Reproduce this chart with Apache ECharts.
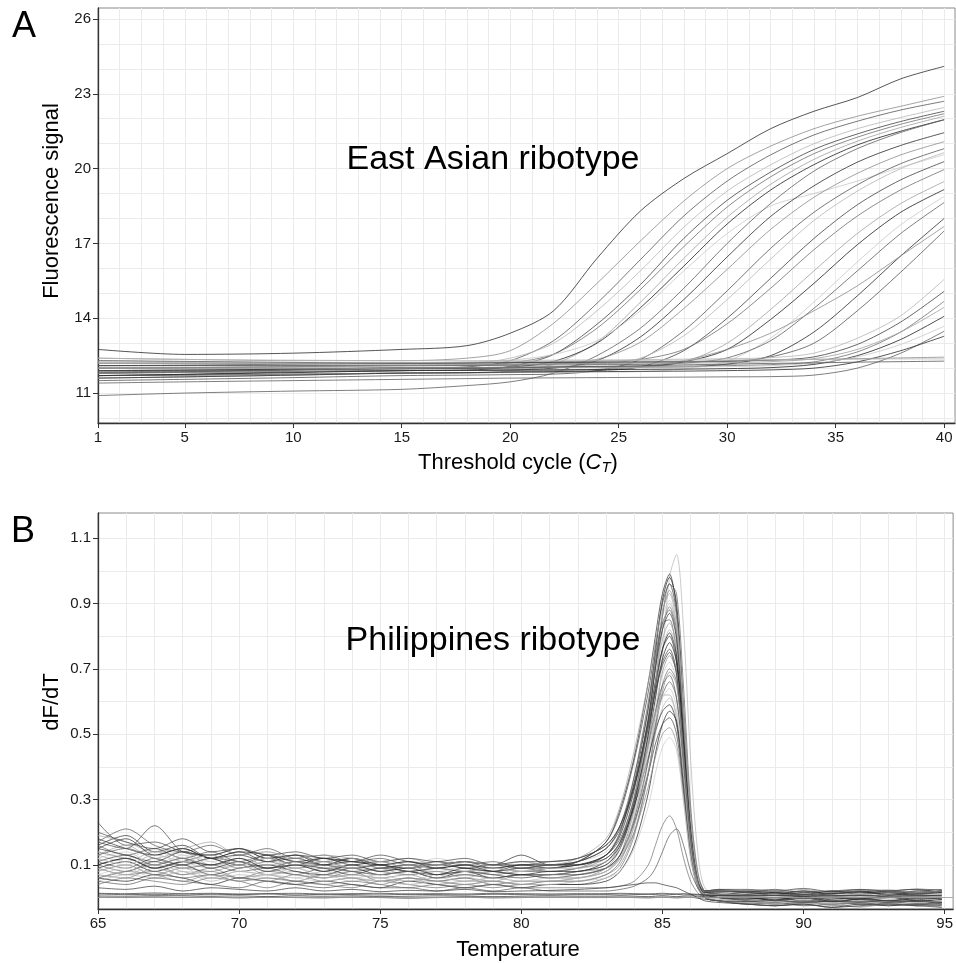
<!DOCTYPE html>
<html>
<head>
<meta charset="utf-8">
<script src="https://cdn.jsdelivr.net/npm/echarts@6/dist/echarts.min.js"></script>
<style>
  html, body { margin: 0; padding: 0; background: #fff; }
  #chart { width: 956px; height: 963px; }
</style>
</head>
<body>
<div id="chart"></div>
<script>
// ---- Panel A: amplification curves (fluorescence vs cycle) ----
const cycles = [1, 5, 10, 15, 18, 20, 22, 24, 26, 28, 30, 32, 34, 36, 38, 40];
const cycleTicks = [1, 5, 10, 15, 20, 25, 30, 35, 40];
const fluorTicks = [11, 14, 17, 20, 23, 26];
const fluorCurves = [
  [12.75, 12.55, 12.6, 12.75, 12.9, 13.4, 14.3, 16.4, 18.3, 19.6, 20.6, 21.6, 22.3, 22.85, 23.6, 24.1],
  [12.4, 12.35, 12.3, 12.3, 12.4, 12.7, 13.8, 15.4, 17.1, 18.7, 20.0, 20.9, 21.6, 22.1, 22.5, 22.9],
  [11.8, 11.85, 11.95, 12.0, 12.05, 12.3, 13.1, 14.6, 16.35, 18.1, 19.5, 20.55, 21.35, 21.9, 22.35, 22.7],
  [12.2, 12.2, 12.2, 12.2, 12.2, 12.4, 13.0, 14.3, 15.9, 17.65, 19.1, 20.15, 21.0, 21.6, 22.05, 22.45],
  [11.7, 11.75, 11.85, 11.9, 11.92, 12.07, 12.55, 13.76, 15.35, 17.2, 18.73, 19.86, 20.77, 21.39, 21.89, 22.3],
  [12.0, 12.02, 12.06, 12.1, 12.1, 12.21, 12.56, 13.6, 15.15, 16.87, 18.46, 19.67, 20.6, 21.26, 21.78, 22.2],
  [11.6, 11.65, 11.72, 11.8, 11.8, 11.88, 12.16, 13.04, 14.64, 16.4, 18.05, 19.37, 20.37, 21.1, 21.65, 22.1],
  [11.9, 11.92, 11.96, 12.0, 12.0, 12.04, 12.27, 13.0, 14.42, 16.09, 17.78, 19.14, 20.16, 20.95, 21.5, 21.96],
  [12.3, 12.25, 12.22, 12.2, 12.25, 12.32, 12.55, 13.1, 14.3, 15.9, 17.4, 18.5, 19.0, 19.5, 20.05, 20.56],
  [10.9, 11.0, 11.08, 11.15, 11.3, 11.45, 11.8, 12.5, 13.6, 15.2, 17.0, 18.6, 19.9, 20.8, 21.45, 21.96],
  [11.8, 11.83, 11.86, 11.9, 11.92, 11.93, 12.0, 12.3, 13.25, 14.75, 16.46, 18.08, 19.31, 20.26, 20.93, 21.44],
  [12.1, 12.1, 12.1, 12.1, 12.1, 12.12, 12.16, 12.35, 13.04, 14.39, 15.96, 17.56, 18.85, 19.81, 20.55, 21.08],
  [11.5, 11.55, 11.62, 11.7, 11.72, 11.74, 11.76, 11.9, 12.35, 13.5, 15.1, 16.8, 18.25, 19.35, 20.2, 20.8],
  [11.9, 11.93, 11.96, 12.0, 12.02, 12.04, 12.06, 12.15, 12.4, 13.3, 14.75, 16.37, 17.92, 19.1, 20.0, 20.64],
  [11.7, 11.72, 11.76, 11.8, 11.82, 11.84, 11.86, 11.9, 12.05, 12.7, 14.0, 15.6, 17.2, 18.55, 19.55, 20.28],
  [12.2, 12.2, 12.2, 12.2, 12.22, 12.24, 12.26, 12.28, 12.35, 12.75, 13.78, 15.2, 16.75, 18.1, 19.15, 19.96],
  [11.8, 11.82, 11.86, 11.9, 11.91, 11.92, 11.93, 11.95, 12.03, 12.25, 13.0, 14.35, 15.9, 17.4, 18.6, 19.48],
  [12.0, 12.0, 12.0, 12.0, 12.01, 12.02, 12.03, 12.05, 12.07, 12.25, 12.75, 13.95, 15.4, 16.95, 18.25, 19.16],
  [11.6, 11.65, 11.72, 11.8, 11.81, 11.82, 11.83, 11.84, 11.86, 11.97, 12.28, 13.2, 14.65, 16.26, 17.75, 18.88],
  [12.1, 12.1, 12.1, 12.1, 12.11, 12.12, 12.13, 12.14, 12.15, 12.2, 12.41, 13.1, 14.4, 15.9, 17.4, 18.64],
  [11.9, 11.92, 11.96, 12.0, 12.0, 12.01, 12.02, 12.03, 12.04, 12.05, 12.16, 12.5, 13.45, 14.9, 16.5, 18.0],
  [11.7, 11.72, 11.76, 11.8, 11.82, 11.85, 11.9, 11.95, 12.05, 12.3, 12.75, 13.4, 14.3, 15.3, 16.5, 17.68],
  [12.3, 12.27, 12.23, 12.2, 12.2, 12.21, 12.22, 12.23, 12.24, 12.25, 12.27, 12.45, 13.0, 14.3, 15.85, 17.5],
  [12.4, 12.35, 12.32, 12.3, 12.3, 12.31, 12.32, 12.33, 12.34, 12.36, 12.38, 12.42, 12.6, 13.2, 14.1, 15.56],
  [12.1, 12.12, 12.16, 12.2, 12.21, 12.22, 12.23, 12.24, 12.25, 12.26, 12.28, 12.32, 12.45, 12.95, 13.85, 15.08],
  [11.8, 11.85, 11.92, 12.0, 12.02, 12.04, 12.05, 12.06, 12.07, 12.08, 12.1, 12.14, 12.25, 12.65, 13.45, 14.68],
  [12.2, 12.18, 12.16, 12.15, 12.15, 12.16, 12.17, 12.18, 12.19, 12.2, 12.22, 12.26, 12.38, 12.75, 13.45, 14.44],
  [11.7, 11.75, 11.82, 11.9, 11.91, 11.92, 11.93, 11.94, 11.95, 11.96, 11.98, 12.02, 12.15, 12.5, 13.15, 14.08],
  [12.0, 12.0, 12.0, 12.0, 12.0, 12.01, 12.02, 12.03, 12.04, 12.05, 12.06, 12.1, 12.2, 12.45, 12.95, 13.68],
  [11.4, 11.45, 11.5, 11.55, 11.58, 11.6, 11.61, 11.62, 11.63, 11.64, 11.65, 11.66, 11.72, 12.0, 12.6, 13.48],
  [11.6, 11.65, 11.72, 11.8, 11.82, 11.84, 11.85, 11.86, 11.87, 11.88, 11.9, 11.93, 12.0, 12.25, 12.7, 13.28],
  [12.0, 12.02, 12.06, 12.1, 12.13, 12.15, 12.18, 12.2, 12.23, 12.26, 12.29, 12.32, 12.35, 12.38, 12.41, 12.44],
  [11.85, 11.88, 11.92, 11.96, 11.99, 12.01, 12.04, 12.07, 12.1, 12.13, 12.16, 12.19, 12.21, 12.24, 12.26, 12.28],
  [12.25, 12.22, 12.2, 12.22, 12.24, 12.26, 12.28, 12.3, 12.31, 12.32, 12.33, 12.34, 12.35, 12.36, 12.37, 12.37]
];

// ---- Panel B: melt curves (dF/dT vs temperature) ----
const temps = [65, 66, 67, 68, 69, 70, 71, 72, 73, 74, 75, 76, 77, 78, 79, 80, 81, 82,
  83, 83.5, 84, 84.5, 84.75, 85, 85.25, 85.5, 85.75, 86, 86.25, 86.5, 87,
  88, 89, 90, 91, 92, 93, 94, 94.9];
const tempTicks = [65, 70, 75, 80, 85, 90, 95];
const dfdtTicks = [0.1, 0.3, 0.5, 0.7, 0.9, 1.1];
const meltCurves = [
  [0.12,0.1,0.13,0.11,0.09,0.1,0.08,0.09,0.07,0.08,0.07,0.08,0.06,0.07,0.06,0.07,0.06,0.07,  0.09,0.13,0.2,0.38,0.52,0.74,0.98,1.05,0.82,0.42,0.14,0.03,0.01,  0.0,-0.01,0.005,-0.005,0.0,-0.01,0.0,-0.005],
  [0.16,0.19,0.14,0.16,0.12,0.14,0.11,0.13,0.1,0.12,0.09,0.1,0.09,0.1,0.08,0.1,0.09,0.11,  0.17,0.27,0.43,0.66,0.8,0.93,0.99,0.88,0.55,0.22,0.06,0.02,0.02,  0.015,0.01,0.02,0.012,0.018,0.01,0.02,0.015],
  [0.1,0.12,0.09,0.11,0.13,0.1,0.12,0.1,0.11,0.09,0.1,0.08,0.09,0.08,0.09,0.08,0.09,0.1,  0.13,0.2,0.35,0.58,0.75,0.91,0.98,0.9,0.58,0.25,0.07,0.02,0.01,  0.005,-0.01,0.0,-0.015,-0.005,-0.01,-0.02,-0.015],
  [0.23,0.16,0.17,0.14,0.13,0.15,0.12,0.13,0.11,0.12,0.1,0.11,0.1,0.11,0.09,0.1,0.1,0.11,  0.17,0.26,0.42,0.63,0.77,0.9,0.96,0.87,0.55,0.22,0.06,0.02,0.02,  0.02,0.015,0.02,0.01,0.02,0.015,0.02,0.025],
  [0.08,0.1,0.07,0.09,0.08,0.1,0.07,0.08,0.06,0.07,0.06,0.07,0.05,0.06,0.05,0.07,0.06,0.06,  0.09,0.15,0.3,0.54,0.71,0.87,0.94,0.86,0.56,0.24,0.07,0.01,0.0,  -0.01,-0.02,-0.01,-0.025,-0.015,-0.02,-0.01,-0.02],
  [0.14,0.12,0.15,0.13,0.11,0.13,0.14,0.11,0.12,0.1,0.11,0.1,0.12,0.1,0.09,0.11,0.1,0.11,  0.14,0.2,0.34,0.56,0.72,0.86,0.91,0.82,0.52,0.21,0.06,0.02,0.015,  0.01,0.0,0.01,0.005,0.015,0.0,0.01,0.005],
  [0.06,0.08,0.1,0.07,0.09,0.06,0.08,0.07,0.06,0.08,0.05,0.06,0.05,0.06,0.04,0.05,0.05,0.06,  0.08,0.13,0.27,0.5,0.66,0.82,0.89,0.82,0.54,0.23,0.06,0.01,0.0,  -0.015,-0.005,-0.02,-0.01,-0.02,-0.015,-0.025,-0.02],
  [0.17,0.21,0.16,0.14,0.16,0.13,0.15,0.12,0.13,0.11,0.12,0.1,0.11,0.1,0.11,0.09,0.1,0.11,  0.15,0.22,0.37,0.58,0.72,0.84,0.88,0.8,0.5,0.2,0.05,0.02,0.02,  0.02,0.01,0.015,0.02,0.01,0.015,0.01,0.02],
  [0.11,0.09,0.12,0.1,0.12,0.09,0.11,0.09,0.1,0.08,0.09,0.1,0.07,0.08,0.07,0.08,0.08,0.09,  0.13,0.2,0.37,0.6,0.74,0.84,0.85,0.74,0.45,0.18,0.05,0.01,0.01,  0.0,0.01,-0.005,0.005,-0.01,0.0,0.005,-0.005],
  [0.13,0.16,0.12,0.14,0.1,0.12,0.09,0.11,0.08,0.1,0.09,0.07,0.08,0.06,0.08,0.07,0.07,0.08,  0.1,0.16,0.3,0.52,0.66,0.79,0.84,0.77,0.5,0.21,0.06,0.01,0.01,  0.005,-0.005,0.0,-0.01,0.005,-0.005,-0.01,0.0],
  [0.05,0.07,0.06,0.08,0.05,0.07,0.06,0.05,0.07,0.05,0.06,0.04,0.05,0.04,0.05,0.04,0.04,0.05,  0.07,0.11,0.24,0.46,0.61,0.76,0.82,0.76,0.5,0.22,0.06,0.01,-0.01,  -0.02,-0.025,-0.015,-0.02,-0.03,-0.02,-0.025,-0.02],
  [0.15,0.13,0.11,0.14,0.12,0.1,0.13,0.11,0.12,0.1,0.11,0.09,0.1,0.11,0.1,0.13,0.1,0.11,  0.15,0.21,0.34,0.54,0.66,0.76,0.8,0.72,0.46,0.19,0.05,0.02,0.02,  0.015,0.02,0.01,0.015,0.02,0.01,0.015,0.02],
  [0.09,0.11,0.08,0.1,0.07,0.09,0.1,0.08,0.07,0.09,0.07,0.08,0.06,0.08,0.06,0.07,0.07,0.08,  0.1,0.15,0.28,0.48,0.61,0.73,0.78,0.72,0.47,0.2,0.05,0.01,0.0,  -0.005,0.0,-0.01,-0.005,0.0,-0.01,-0.005,-0.015],
  [0.17,0.15,0.22,0.14,0.13,0.15,0.12,0.13,0.12,0.11,0.13,0.11,0.1,0.11,0.1,0.1,0.11,0.12,  0.16,0.22,0.34,0.52,0.63,0.72,0.76,0.69,0.44,0.18,0.05,0.02,0.025,  0.02,0.025,0.015,0.02,0.025,0.02,0.015,0.02],
  [0.07,0.06,0.09,0.07,0.08,0.06,0.07,0.05,0.07,0.06,0.05,0.06,0.04,0.05,0.05,0.04,0.05,0.05,  0.07,0.11,0.22,0.42,0.56,0.69,0.74,0.69,0.46,0.2,0.05,0.0,-0.01,  -0.02,-0.015,-0.025,-0.02,-0.015,-0.025,-0.02,-0.03],
  [0.12,0.14,0.1,0.13,0.11,0.09,0.11,0.1,0.09,0.11,0.08,0.09,0.08,0.09,0.07,0.09,0.08,0.09,  0.12,0.17,0.29,0.48,0.59,0.68,0.72,0.66,0.43,0.18,0.05,0.01,0.01,  0.0,0.005,-0.005,0.01,0.0,-0.005,0.005,0.0],
  [0.04,0.06,0.05,0.04,0.06,0.05,0.03,0.05,0.04,0.03,0.05,0.04,0.03,0.04,0.03,0.04,0.04,0.04,  0.06,0.09,0.19,0.38,0.52,0.65,0.7,0.66,0.44,0.19,0.05,0.0,-0.01,  -0.015,-0.02,-0.01,-0.02,-0.015,-0.01,-0.02,-0.015],
  [0.16,0.13,0.15,0.12,0.14,0.11,0.13,0.11,0.1,0.12,0.1,0.09,0.11,0.09,0.1,0.09,0.1,0.1,  0.13,0.18,0.3,0.47,0.57,0.65,0.68,0.61,0.39,0.16,0.04,0.02,0.02,  0.015,0.01,0.02,0.015,0.01,0.02,0.015,0.01],
  [0.1,0.08,0.11,0.09,0.1,0.08,0.09,0.07,0.09,0.08,0.07,0.08,0.06,0.07,0.06,0.07,0.06,0.07,  0.09,0.13,0.24,0.42,0.53,0.62,0.66,0.61,0.4,0.17,0.04,0.0,0.0,  -0.01,-0.005,-0.015,-0.01,-0.005,-0.015,-0.01,-0.02],
  [0.13,0.11,0.14,0.12,0.1,0.12,0.1,0.11,0.09,0.1,0.08,0.1,0.09,0.08,0.09,0.08,0.09,0.09,  0.12,0.17,0.29,0.46,0.56,0.62,0.62,0.54,0.33,0.13,0.03,0.01,0.01,  0.005,0.01,0.0,0.005,0.01,0.0,0.005,0.01],
  [0.08,0.1,0.07,0.09,0.06,0.08,0.07,0.06,0.08,0.06,0.07,0.05,0.06,0.05,0.06,0.05,0.05,0.06,  0.08,0.12,0.22,0.39,0.5,0.58,0.61,0.56,0.37,0.16,0.04,0.0,-0.005,  -0.01,-0.015,-0.005,-0.01,-0.02,-0.01,-0.015,-0.01],
  [0.18,0.15,0.13,0.15,0.12,0.13,0.11,0.12,0.1,0.11,0.1,0.09,0.1,0.09,0.08,0.09,0.09,0.1,  0.12,0.17,0.28,0.43,0.51,0.57,0.59,0.53,0.34,0.14,0.04,0.015,0.02,  0.02,0.015,0.01,0.02,0.015,0.02,0.025,0.015],
  [0.06,0.05,0.07,0.06,0.04,0.06,0.05,0.04,0.05,0.04,0.03,0.05,0.04,0.03,0.04,0.03,0.04,0.04,  0.05,0.08,0.16,0.32,0.44,0.53,0.57,0.54,0.36,0.15,0.04,0.0,-0.01,  -0.02,-0.025,-0.02,-0.03,-0.02,-0.025,-0.02,-0.025],
  [0.11,0.13,0.1,0.12,0.09,0.11,0.08,0.1,0.09,0.07,0.09,0.08,0.07,0.08,0.07,0.06,0.07,0.07,  0.09,0.13,0.23,0.38,0.47,0.53,0.55,0.5,0.32,0.13,0.03,0.01,0.0,  -0.005,0.0,-0.01,0.0,-0.005,-0.01,0.0,-0.005],
  [0.14,0.12,0.1,0.12,0.1,0.11,0.09,0.1,0.08,0.09,0.08,0.07,0.08,0.07,0.08,0.07,0.07,0.08,  0.09,0.12,0.2,0.34,0.43,0.5,0.52,0.47,0.3,0.12,0.03,0.01,0.01,  0.005,0.0,0.01,0.005,0.0,0.01,0.005,0.0],
  [0.07,0.09,0.06,0.08,0.07,0.05,0.07,0.06,0.05,0.06,0.05,0.04,0.05,0.04,0.05,0.04,0.04,0.05,  0.06,0.08,0.15,0.28,0.38,0.46,0.49,0.45,0.29,0.12,0.03,0.0,-0.005,  -0.015,-0.01,-0.02,-0.015,-0.01,-0.02,-0.015,-0.01],
  [0.09,0.07,0.08,0.06,0.07,0.05,0.06,0.05,0.04,0.05,0.04,0.03,0.04,0.03,0.04,0.03,0.03,0.03,  0.03,0.035,0.05,0.1,0.16,0.22,0.25,0.21,0.12,0.05,0.015,0.0,-0.01,  -0.02,-0.015,-0.025,-0.02,-0.015,-0.02,-0.025,-0.02],
  [0.05,0.04,0.06,0.05,0.04,0.03,0.05,0.04,0.03,0.04,0.03,0.03,0.02,0.03,0.02,0.03,0.02,0.02,  0.02,0.025,0.035,0.06,0.09,0.14,0.19,0.21,0.16,0.08,0.03,0.005,0.0,  -0.01,-0.02,-0.015,-0.01,-0.02,-0.015,-0.01,-0.02],
  [0.13,0.15,0.12,0.1,0.12,0.11,0.09,0.11,0.1,0.09,0.1,0.08,0.09,0.1,0.08,0.09,0.08,0.09,  0.11,0.17,0.31,0.54,0.7,0.86,0.96,0.93,0.64,0.28,0.08,0.02,0.01,  0.005,0.012,0.0,0.008,-0.004,0.006,0.01,0.002],
  [0.19,0.17,0.14,0.15,0.17,0.13,0.14,0.12,0.13,0.12,0.11,0.12,0.1,0.11,0.1,0.11,0.1,0.12,  0.18,0.28,0.45,0.66,0.78,0.88,0.93,0.83,0.51,0.2,0.05,0.02,0.02,  0.022,0.018,0.025,0.015,0.02,0.024,0.016,0.02],
  [0.09,0.07,0.1,0.08,0.06,0.08,0.07,0.09,0.06,0.07,0.06,0.05,0.07,0.05,0.06,0.05,0.06,0.06,  0.08,0.12,0.25,0.48,0.65,0.82,0.9,0.84,0.57,0.25,0.07,0.01,-0.005,  -0.012,-0.02,-0.008,-0.018,-0.012,-0.022,-0.015,-0.01],
  [0.15,0.18,0.13,0.15,0.12,0.14,0.13,0.1,0.12,0.11,0.1,0.11,0.09,0.1,0.09,0.1,0.1,0.1,  0.13,0.19,0.33,0.55,0.7,0.82,0.87,0.79,0.5,0.2,0.05,0.015,0.015,  0.01,0.015,0.005,0.012,0.018,0.008,0.012,0.015],
  [0.1,0.12,0.09,0.11,0.1,0.12,0.09,0.1,0.08,0.1,0.08,0.09,0.07,0.09,0.08,0.07,0.08,0.08,  0.11,0.16,0.29,0.5,0.64,0.76,0.81,0.74,0.48,0.2,0.05,0.01,0.005,  0.0,-0.008,0.004,-0.012,-0.004,0.002,-0.01,-0.006],
  [0.2,0.17,0.15,0.18,0.14,0.15,0.13,0.14,0.12,0.13,0.11,0.12,0.11,0.12,0.1,0.11,0.11,0.12,  0.16,0.22,0.35,0.53,0.63,0.71,0.75,0.68,0.43,0.18,0.05,0.02,0.025,  0.025,0.02,0.028,0.018,0.024,0.02,0.026,0.022],
  [0.06,0.08,0.07,0.05,0.07,0.06,0.05,0.07,0.05,0.06,0.04,0.06,0.05,0.04,0.05,0.04,0.05,0.05,  0.07,0.1,0.2,0.38,0.51,0.63,0.69,0.65,0.43,0.19,0.05,0.0,-0.01,  -0.018,-0.025,-0.015,-0.022,-0.028,-0.018,-0.024,-0.02],
  [0.12,0.1,0.13,0.11,0.13,0.1,0.12,0.1,0.11,0.09,0.11,0.09,0.1,0.08,0.09,0.08,0.09,0.09,  0.11,0.15,0.26,0.44,0.54,0.61,0.64,0.58,0.37,0.15,0.04,0.01,0.005,  0.002,0.008,-0.004,0.006,0.0,0.01,-0.002,0.004],
  // samples without a product: flat near zero
  [0.011,0.009,0.01,0.008,0.01,0.009,0.011,0.008,0.01,0.009,0.008,0.01,0.009,0.008,0.01,0.009,0.008,0.009,  0.009,0.008,0.009,0.01,0.009,0.008,0.009,0.01,0.008,0.009,0.008,0.007,0.006,  0.005,0.006,0.004,0.005,0.006,0.004,0.005,0.006],
  [0.005,0.004,0.006,0.005,0.004,0.005,0.003,0.005,0.004,0.005,0.003,0.004,0.005,0.004,0.003,0.004,0.005,0.004,  0.004,0.005,0.004,0.003,0.004,0.005,0.004,0.003,0.004,0.005,0.004,0.002,0.0,  -0.002,0.0,-0.003,-0.001,-0.002,0.0,-0.003,-0.002],
  [0.001,0.0,0.002,0.0,0.001,-0.001,0.001,0.0,-0.001,0.001,0.0,-0.002,0.0,0.001,-0.001,0.0,0.001,0.0,  0.0,0.001,0.0,-0.001,0.0,0.001,0.0,-0.001,0.0,0.001,-0.002,-0.005,-0.01,  -0.012,-0.01,-0.014,-0.011,-0.013,-0.01,-0.012,-0.014],
  [0.03,0.025,0.035,0.02,0.03,0.025,0.02,0.03,0.02,0.025,0.018,0.022,0.02,0.025,0.018,0.02,0.022,0.025,  0.03,0.035,0.04,0.045,0.045,0.04,0.035,0.03,0.02,0.01,0.0,-0.01,-0.015,  -0.02,-0.025,-0.02,-0.03,-0.025,-0.02,-0.025,-0.03],
  [0.013,0.012,0.014,0.012,0.013,0.011,0.012,0.013,0.011,0.012,0.013,0.011,0.012,0.011,0.013,0.012,0.011,0.012,  0.012,0.013,0.012,0.011,0.012,0.013,0.012,0.011,0.012,0.011,0.01,0.008,0.006,  0.008,0.006,0.009,0.007,0.006,0.008,0.007,0.006]
];
const flatCount = 5;

const font = '"Liberation Sans", Arial, sans-serif';
const grays = ['#2b2b2b', '#8a8a8a', '#555555', '#b5b5b5', '#404040', '#6e6e6e', '#a0a0a0', '#1e1e1e', '#c8c8c8', '#5e5e5e'];

// light panel grid lines: one per unit
const cycleGrid = [], fluorGrid = [], tempGrid = [], dfdtGrid = [];
for (let c = 1; c <= 40; c++) cycleGrid.push(c);
for (let v = 10; v <= 26; v++) fluorGrid.push(v);
for (let t = 65; t <= 95; t++) tempGrid.push(t);
for (let k = 0; k <= 11; k++) dfdtGrid.push(+(k / 10).toFixed(1));

function gridAxis(gridIndex, min, max, lines) {
  return {
    type: 'value', gridIndex, min, max,
    axisLine: { show: false },
    axisLabel: { show: false },
    axisTick: { show: false, customValues: lines },
    splitLine: { show: true, lineStyle: { color: '#ebebeb', width: 1 } }
  };
}

function labelAxis(gridIndex, position, min, max, ticks, fmt) {
  return {
    type: 'value', gridIndex, position, min, max,
    axisLine: { show: true, onZero: false, lineStyle: { color: '#333', width: 1.3 } },
    axisTick: { show: true, length: 5, customValues: ticks, lineStyle: { color: '#333', width: 1 } },
    axisLabel: { customValues: ticks, formatter: fmt, fontSize: 15, color: '#1a1a1a', fontFamily: font, margin: 7 },
    splitLine: { show: false }
  };
}

const series = [];
fluorCurves.forEach((ys, i) => {
  series.push({
    type: 'line', xAxisIndex: 0, yAxisIndex: 0,
    data: ys.map((y, j) => [cycles[j], y]),
    symbol: 'none', smooth: 0.3, silent: true,
    lineStyle: { width: 0.8, color: grays[i % grays.length] }
  });
});
meltCurves.forEach((ys, i) => {
  const flat = i >= meltCurves.length - flatCount;
  series.push({
    type: 'line', xAxisIndex: 2, yAxisIndex: 2,
    data: ys.map((y, j) => [temps[j], y]),
    symbol: 'none', smooth: 0.3, silent: true,
    lineStyle: { width: 0.7, color: flat ? '#333' : grays[(i * 7 + 3) % grays.length] }
  });
});
// horizontal zero line across panel B
series.push({
  type: 'line', xAxisIndex: 2, yAxisIndex: 2, data: [], symbol: 'none',
  markLine: { silent: true, symbol: 'none', label: { show: false },
    lineStyle: { color: '#999', width: 0.8, type: 'solid' }, data: [{ yAxis: 0 }] }
});

function txt(text, x, y, size, extra) {
  return Object.assign({
    type: 'text', x, y, z: 100, silent: true,
    style: { text, fill: '#000', fontSize: size, fontFamily: font, align: 'center', verticalAlign: 'middle' }
  }, extra || {});
}

const ctTitle = txt('Threshold cycle ({c|C}{t|T})', 518, 463, 22);
ctTitle.style.rich = {
  c: { fontStyle: 'italic', fontSize: 22, fontFamily: font, fill: '#000' },
  t: { fontStyle: 'italic', fontSize: 15, fontFamily: font, fill: '#000', padding: [9, 0, 0, 0] }
};

const option = {
  animation: false,
  backgroundColor: '#fff',
  grid: [
    { left: 98, top: 8, width: 857, height: 415, show: true, borderColor: '#8a8a8a', borderWidth: 1, backgroundColor: '#fff' },
    { left: 98, top: 513, width: 857, height: 396, show: true, borderColor: '#8a8a8a', borderWidth: 1, backgroundColor: '#fff' }
  ],
  xAxis: [
    gridAxis(0, 1, 40.5, cycleGrid),
    labelAxis(0, 'bottom', 1, 40.5, cycleTicks, v => String(v)),
    gridAxis(1, 65, 95.3, tempGrid),
    labelAxis(1, 'bottom', 65, 95.3, tempTicks, v => String(v))
  ],
  yAxis: [
    gridAxis(0, 9.8, 26.44, fluorGrid),
    labelAxis(0, 'left', 9.8, 26.44, fluorTicks, v => String(v)),
    gridAxis(1, -0.035, 1.177, dfdtGrid),
    labelAxis(1, 'left', -0.035, 1.177, dfdtTicks, v => v.toFixed(1))
  ],
  series,
  graphic: [
    txt('A', 24, 27, 36),
    txt('B', 23, 532, 36),
    txt('East Asian ribotype', 493, 160, 34),
    txt('Philippines ribotype', 493, 641, 34),
    ctTitle,
    txt('Temperature', 518, 950, 22),
    txt('Fluorescence signal', 52, 201, 22, { rotation: Math.PI / 2 }),
    txt('dF/dT', 52, 702, 22, { rotation: Math.PI / 2 })
  ]
};

const chart = echarts.init(document.getElementById('chart'));
chart.setOption(option);
</script>
</body>
</html>
